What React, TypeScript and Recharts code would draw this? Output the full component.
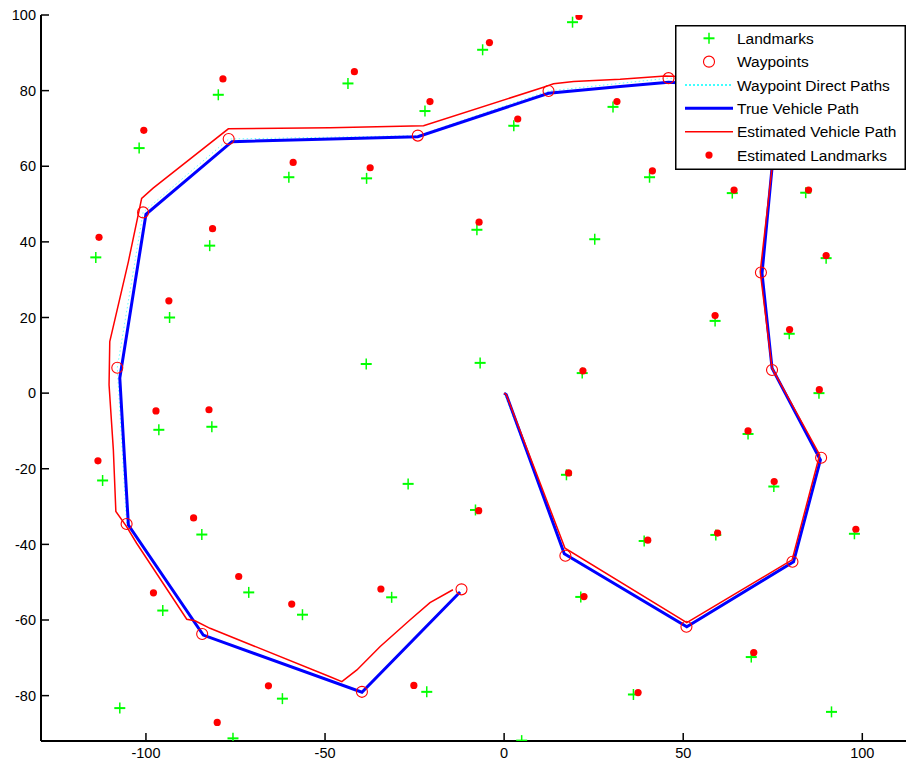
import React from 'react';
import { ScatterChart, Scatter, XAxis, YAxis, Legend } from 'recharts';

const landmarks: [number, number][] = [
  [19.1, 98.1], [-6.0, 90.8], [-43.6, 81.9], [-79.8, 78.9], [-22.1, 74.6], [2.7, 70.7], [30.4, 75.7],
  [-101.9, 64.8], [-60.1, 57.1], [-38.4, 56.8], [40.6, 57.1], [63.7, 52.9], [84.2, 53.0],
  [-114.0, 35.9], [-82.2, 39.0], [-7.6, 43.2], [25.3, 40.7], [89.9, 35.7],
  [-93.4, 20.0], [58.9, 19.1], [79.6, 15.7], [-38.5, 7.7], [-6.7, 8.0], [21.8, 5.3], [87.9, 0.0],
  [-96.4, -9.7], [-81.6, -8.9], [68.1, -10.8], [-112.1, -23.1], [-26.8, -24.0], [17.4, -21.6], [75.3, -24.7],
  [-8.0, -30.9], [-84.4, -37.4], [39.1, -39.1], [59.1, -37.5], [97.8, -37.2],
  [-95.3, -57.5], [-71.3, -52.7], [-56.3, -58.6], [-31.4, -54.0], [21.4, -53.9],
  [-61.9, -80.8], [-21.6, -79.0], [36.1, -79.7], [69.0, -69.8], [91.4, -84.3],
  [-107.3, -83.3], [-75.7, -91.3], [4.9, -91.9],
];

const estimatedLandmarks: [number, number][] = [
  [20.9, 99.6], [-4.1, 92.7], [-41.8, 85.0], [-78.5, 83.1], [-20.7, 77.1], [3.8, 72.5], [31.5, 77.1],
  [-100.6, 69.5], [-58.9, 61.0], [-37.4, 59.6], [41.4, 58.8], [64.2, 53.7], [85.0, 53.7],
  [-113.1, 41.2], [-81.4, 43.5], [-7.0, 45.2], [89.9, 36.4], [-93.6, 24.4], [58.9, 20.5], [79.7, 16.8],
  [22.0, 5.9], [88.0, 0.9], [-97.2, -4.7], [-82.4, -4.4], [68.1, -10.0], [-113.4, -17.9], [18.0, -21.1],
  [75.4, -23.4], [-7.1, -31.1], [-86.7, -33.0], [40.1, -38.9], [59.6, -37.0], [98.2, -36.0],
  [-97.9, -52.8], [-74.1, -48.5], [-59.3, -55.8], [-34.4, -51.8], [22.3, -53.8],
  [-65.8, -77.4], [-25.2, -77.3], [37.4, -79.2], [69.7, -68.6], [-80.1, -87.1],
];

const waypoints: [number, number][] = [
  [17.1, -43.0], [50.9, -61.8], [80.5, -44.6], [88.5, -17.1], [74.8, 6.1], [71.7, 31.9], [77.4, 81.7],
  [45.9, 83.3], [12.4, 79.9], [-24.1, 68.1], [-76.9, 67.2], [-100.8, 47.8], [-108.0, 6.7],
  [-105.4, -34.6], [-84.3, -63.7], [-39.7, -79.0], [-11.9, -51.9],
];

const directPath: [number, number][] = [[0, 0], ...waypoints];

const truePath: [number, number][] = [
  [0, 0], [0.6, -0.4], [16.8, -42.5], [51.0, -61.8], [80.8, -44.6], [88.3, -17.7], [74.8, 6.6],
  [72.0, 31.7], [74.8, 59.6], [77.4, 80.6], [45.9, 82.2], [32.4, 81.1], [12.4, 79.3],
  [-24.1, 67.8], [-76.0, 66.5], [-100.0, 47.3], [-107.3, 4.0], [-104.9, -34.9],
  [-84.0, -64.0], [-39.7, -79.1], [-12.3, -52.6],
];

const estimatedPath: [number, number][] = [
  [0, 0], [0.6, -0.4], [17.0, -41.0], [51.0, -60.7], [80.4, -44.1], [88.1, -16.3], [74.8, 6.6],
  [71.5, 32.1], [74.8, 59.6], [76.8, 82.8], [45.0, 83.9], [32.4, 83.0], [19.4, 82.4],
  [13.8, 81.8], [11.0, 80.9], [-22.5, 70.7], [-48.6, 70.2], [-77.0, 69.9], [-98.0, 54.2],
  [-101.2, 51.5], [-104.9, 34.8], [-110.1, 13.6], [-110.3, 2.2], [-109.1, -15.0], [-108.4, -31.3],
  [-105.4, -35.3], [-102.6, -39.7], [-88.6, -59.8], [-86.3, -60.2], [-82.1, -62.2],
  [-48.6, -75.0], [-45.3, -76.3], [-41.1, -73.2], [-34.6, -67.0], [-26.3, -60.0],
  [-20.7, -55.4], [-14.3, -52.0],
];

const xTicks = [-100, -50, 0, 50, 100];
const yTicks = [-80, -60, -40, -20, 0, 20, 40, 60, 80, 100];
const legendLabels = [
  'Landmarks',
  'Waypoints',
  'Waypoint Direct Paths',
  'True Vehicle Path',
  'Estimated Vehicle Path',
  'Estimated Landmarks',
];

const FONT = '"Liberation Sans", Arial, Helvetica, sans-serif';
const toPts = (a: [number, number][]) => a.map(([x, y]) => ({ x, y }));

const BottomTick = (p: any) => (
  <g>
    <line x1={p.x} x2={p.x} y1={p.y} y2={p.y - 8} stroke="#000" strokeWidth={1.5} />
    <text x={p.x} y={p.y + 17} textAnchor="middle" fontSize={14.5} fontFamily={FONT} fill="#000">
      {p.payload.value}
    </text>
  </g>
);
const TopTick = (p: any) => (
  <line x1={p.x} x2={p.x} y1={p.y} y2={p.y + 8} stroke="#000" strokeWidth={1.5} />
);
const LeftTick = (p: any) => (
  <g>
    <line x1={p.x} x2={p.x + 8} y1={p.y} y2={p.y} stroke="#000" strokeWidth={1.5} />
    <text x={p.x - 5} y={p.y} dy="0.36em" textAnchor="end" fontSize={14.5} fontFamily={FONT} fill="#000">
      {p.payload.value}
    </text>
  </g>
);
const RightTick = (p: any) => (
  <line x1={p.x} x2={p.x - 8} y1={p.y} y2={p.y} stroke="#000" strokeWidth={1.5} />
);

const PlusShape = (p: any) => (
  <g>
    <line x1={p.cx - 5.5} x2={p.cx + 5.5} y1={p.cy} y2={p.cy} stroke="#00ff00" strokeWidth={2} />
    <line x1={p.cx} x2={p.cx} y1={p.cy - 5.5} y2={p.cy + 5.5} stroke="#00ff00" strokeWidth={1.5} />
  </g>
);
const DotShape = (p: any) => <circle cx={p.cx} cy={p.cy} r={3.6} fill="#ff0000" />;
const RingShape = (p: any) => (
  <circle cx={p.cx} cy={p.cy} r={5.5} fill="none" stroke="#ff0000" strokeWidth={1.1} />
);
const NoShape = () => <g />;

const LegendBox = () => (
  <svg width={231} height={145} style={{ display: 'block' }}>
    <rect x={0.75} y={0.75} width={229.5} height={143.5} fill="#fff" stroke="#000" strokeWidth={1.5} />
    {legendLabels.map((label, i) => {
      const cy = 13.3 + i * 23.35;
      let icon: React.ReactNode = null;
      if (i === 0) icon = <PlusShape cx={34} cy={cy} />;
      else if (i === 1) icon = <RingShape cx={34} cy={cy} />;
      else if (i === 2)
        icon = <line x1={10} x2={58} y1={cy} y2={cy} stroke="#00ffff" strokeWidth={1.5} strokeDasharray="2 2" />;
      else if (i === 3) icon = <line x1={10} x2={58} y1={cy} y2={cy} stroke="#0000ff" strokeWidth={3} />;
      else if (i === 4) icon = <line x1={10} x2={58} y1={cy} y2={cy} stroke="#ff0000" strokeWidth={1.5} />;
      else icon = <DotShape cx={34} cy={cy} />;
      return (
        <g key={label}>
          {icon}
          <text x={62} y={cy} dy="0.36em" fontSize={15.5} fontFamily={FONT} fill="#000">
            {label}
          </text>
        </g>
      );
    })}
  </svg>
);

export default function App() {
  const xDomain: [number, number] = [-129.3, 112.2];
  const yDomain: [number, number] = [-92, 100];
  return (
    <div style={{ position: 'absolute', left: 0, top: 0, width: 907, height: 764, background: '#fff' }}>
      <ScatterChart width={907} height={764} margin={{ top: 15, right: 1, bottom: 0, left: 0 }}>
        <XAxis
          type="number"
          dataKey="x"
          domain={xDomain}
          ticks={xTicks}
          interval={0}
          allowDataOverflow
          height={23}
          tickSize={0}
          tickMargin={0}
          tick={BottomTick}
          tickLine={false}
          axisLine={{ stroke: '#000', strokeWidth: 2 }}
        />
        <XAxis
          xAxisId="top"
          orientation="top"
          type="number"
          dataKey="x"
          domain={xDomain}
          ticks={xTicks}
          interval={0}
          allowDataOverflow
          height={0}
          tickSize={0}
          tickMargin={0}
          tick={TopTick}
          tickLine={false}
          axisLine={{ stroke: '#000', strokeWidth: 2 }}
        />
        <YAxis
          type="number"
          dataKey="y"
          domain={yDomain}
          ticks={yTicks}
          interval={0}
          allowDataOverflow
          width={41}
          tickSize={0}
          tickMargin={0}
          tick={LeftTick}
          tickLine={false}
          axisLine={{ stroke: '#000', strokeWidth: 2 }}
        />
        <YAxis
          yAxisId="right"
          orientation="right"
          type="number"
          dataKey="y"
          domain={yDomain}
          ticks={yTicks}
          interval={0}
          allowDataOverflow
          width={0}
          tickSize={0}
          tickMargin={0}
          tick={RightTick}
          tickLine={false}
          axisLine={{ stroke: '#000', strokeWidth: 2 }}
        />
        <Scatter data={toPts(landmarks)} shape={PlusShape} isAnimationActive={false} />
        <Scatter
          data={toPts(directPath)}
          shape={NoShape}
          line={{ stroke: '#00ffff', strokeWidth: 1, strokeDasharray: '1.5 2.5', strokeOpacity: 0.6 }}
          isAnimationActive={false}
        />
        <Scatter
          data={toPts(truePath)}
          shape={NoShape}
          line={{ stroke: '#0000ff', strokeWidth: 3 }}
          isAnimationActive={false}
        />
        <Scatter data={toPts(waypoints)} shape={RingShape} isAnimationActive={false} />
        <Scatter
          data={toPts(estimatedPath)}
          shape={NoShape}
          line={{ stroke: '#ff0000', strokeWidth: 1.5 }}
          isAnimationActive={false}
        />
        <Scatter data={toPts(estimatedLandmarks)} shape={DotShape} isAnimationActive={false} />
        <Legend
          layout="horizontal"
          verticalAlign="middle"
          align="center"
          content={LegendBox}
          wrapperStyle={{ position: 'absolute', left: 675, top: 25, width: 231, height: 145, margin: 0, padding: 0 }}
        />
      </ScatterChart>
    </div>
  );
}
